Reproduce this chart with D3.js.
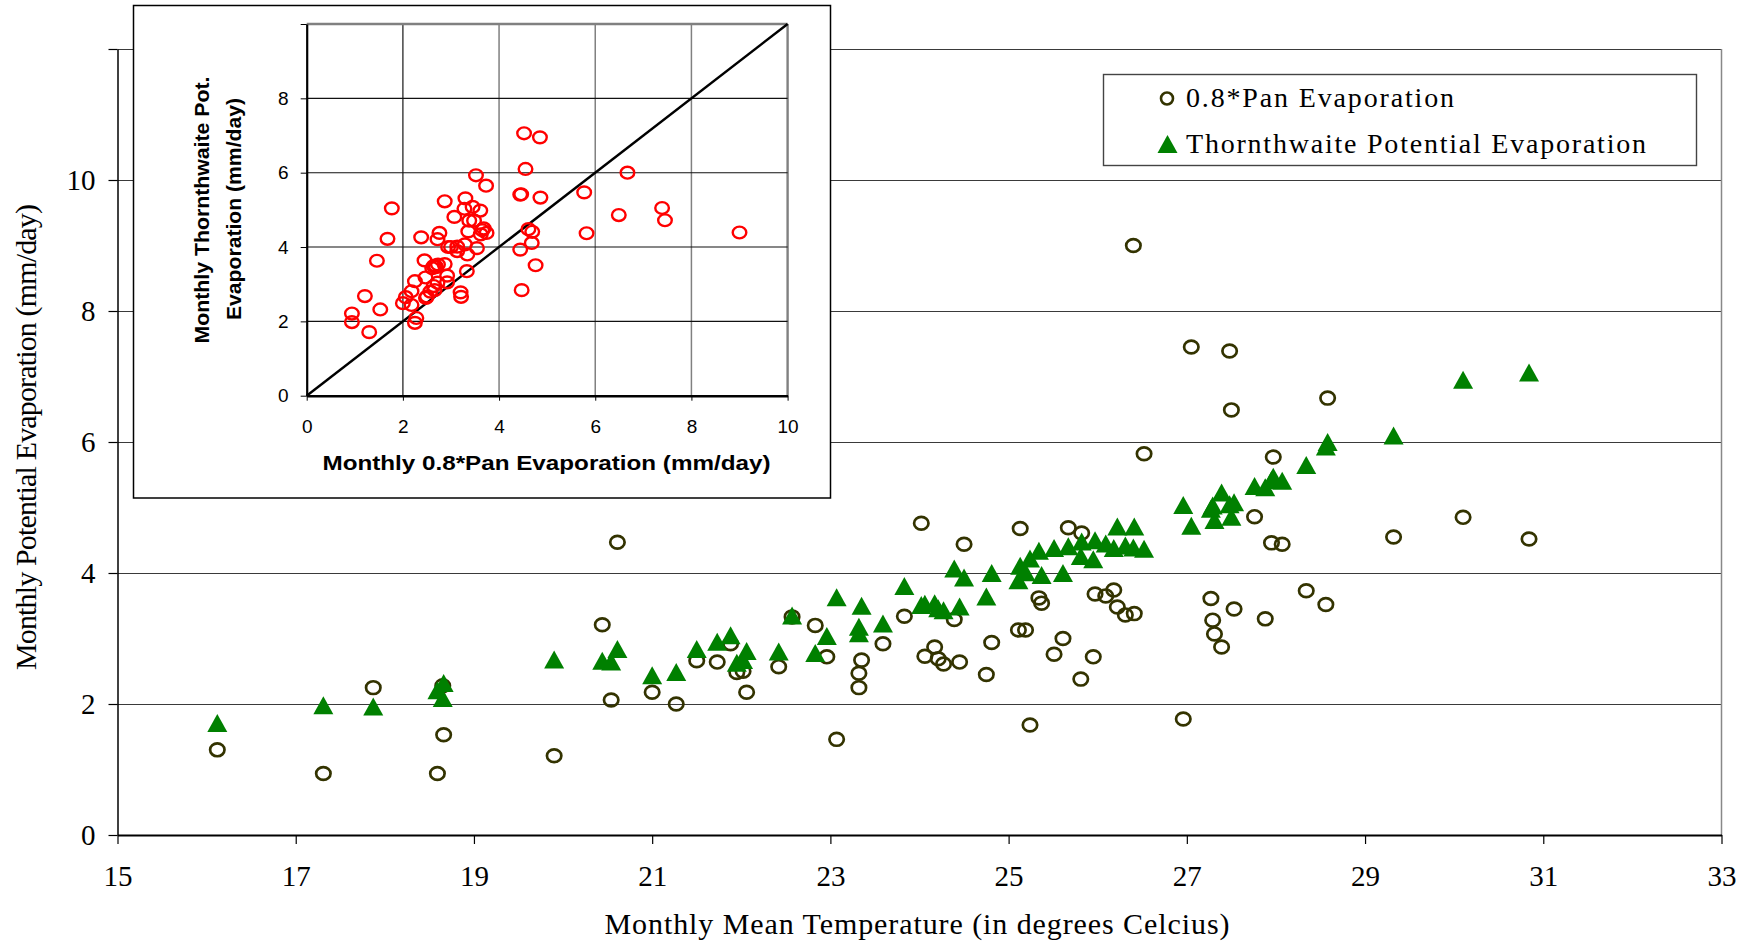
<!DOCTYPE html>
<html>
<head>
<meta charset="utf-8">
<script src="https://cdn.jsdelivr.net/npm/d3@7"></script>
<style>
  html, body { margin: 0; padding: 0; background: #fff; }
  svg { display: block; }
</style>
</head>
<body>
<svg id="chart" width="1751" height="944"></svg>
<script>
// Monthly mean temperature (deg C) for each month in the record
const temperature = [16.12, 17.31, 17.87, 18.59, 18.65, 18.66, 19.90, 20.44, 20.54, 20.61,
  21.00, 21.27, 21.50, 21.73, 21.88, 21.95, 22.02, 22.06, 22.42, 22.57,
  22.83, 22.96, 23.07, 23.32, 23.32, 23.35, 23.59, 23.83, 24.02, 24.06,
  24.17, 24.21, 24.27, 24.39, 24.45, 24.50, 24.75, 24.81, 25.11, 25.13,
  25.19, 25.24, 25.34, 25.37, 25.51, 25.61, 25.67, 25.81, 25.82, 25.95,
  25.97, 26.09, 26.18, 26.22, 26.31, 26.40, 26.41, 26.52, 26.96, 27.05,
  27.27, 27.29, 27.31, 27.39, 27.48, 27.50, 27.53, 27.76, 27.88, 27.95,
  27.97, 28.07, 28.34, 28.56, 28.58, 29.32, 30.10, 30.84];

// 0.8 * pan evaporation (mm/day) for the same months
const panEvaporation = [1.30, 0.94, 2.25, 0.94, 2.28, 1.53, 1.21, 3.21, 2.06, 4.47,
  2.18, 2.00, 2.66, 2.64, 2.92, 2.48, 2.50, 2.18, 2.57, 3.33,
  3.20, 2.72, 1.46, 2.47, 2.25, 2.67, 2.92, 3.34, 4.76, 2.73,
  2.87, 2.69, 2.61, 3.29, 2.64, 4.44, 2.45, 2.94, 3.13, 4.68,
  3.13, 1.68, 3.62, 3.54, 2.76, 3.00, 4.69, 2.38, 4.61, 2.72,
  3.68, 3.65, 3.74, 3.48, 3.36, 9.00, 3.38, 5.82, 1.77, 7.45,
  3.61, 3.28, 3.07, 2.87, 7.39, 6.49, 3.45, 4.86, 3.30, 4.46,
  5.77, 4.44, 3.73, 3.52, 6.67, 4.55, 4.85, 4.52];

// Thornthwaite potential evaporation (mm/day) for the same months
const thornthwaite = [1.71, 1.98, 1.96, 2.21, 2.09, 2.32, 2.68, 2.66, 2.65, 2.84,
  2.44, 2.49, 2.84, 2.95, 3.05, 2.63, 2.67, 2.81, 2.80, 3.35,
  2.78, 3.04, 3.63, 3.18, 3.08, 3.50, 3.23, 3.80, 3.51, 3.53,
  3.54, 3.46, 3.43, 4.07, 3.49, 3.93, 3.64, 4.00, 3.89, 4.11,
  4.01, 4.22, 4.34, 3.97, 4.38, 4.00, 4.41, 4.26, 4.48, 4.21,
  4.50, 4.45, 4.38, 4.71, 4.42, 4.39, 4.71, 4.37, 5.04, 4.72,
  4.98, 5.03, 4.81, 5.23, 5.05, 4.86, 5.08, 5.33, 5.31, 5.42,
  5.47, 5.41, 5.65, 5.93, 6.00, 6.10, 6.95, 7.06];

// Axis ticks
const tempTicks = [15, 17, 19, 21, 23, 25, 27, 29, 31, 33];
const evapTicks = [0, 2, 4, 6, 8, 10, 12];
const evapTickLabels = ["0", "2", "4", "6", "8", "10", ""];
const insetTicks = [0, 2, 4, 6, 8, 10];
const insetYTickLabels = ["0", "2", "4", "6", "8", ""];
const insetXTickLabels = ["0", "2", "4", "6", "8", "10"];

// Text
const seriesNames = ["0.8*Pan Evaporation", "Thornthwaite Potential Evaporation"];
const xTitle = "Monthly Mean Temperature (in degrees Celcius)";
const yTitle = "Monthly Potential Evaporation (mm/day)";
const insetXTitle = "Monthly 0.8*Pan Evaporation (mm/day)";
const insetYTitle = ["Monthly Thornthwaite Pot.", "Evaporation (mm/day)"];

const SERIF = "'Liberation Serif', 'Times New Roman', serif";
const SANS = "'Liberation Sans', Arial, sans-serif";
const PAN_COLOR = "#333300";
const THORN_COLOR = "#008000";

const months = temperature.map((t, i) => ({ t, pan: panEvaporation[i], th: thornthwaite[i] }));

const svg = d3.select("#chart");

// ---------------- main chart ----------------
const x = d3.scaleLinear().domain([15, 33]).range([117.5, 1721.5]);
const y = d3.scaleLinear().domain([0, 12]).range([835, 49]);

const main = svg.append("g");

// horizontal gridlines
main.append("g").selectAll("line")
  .data(evapTicks.filter(d => d > 0))
  .join("line")
  .attr("x1", x(15)).attr("x2", x(33))
  .attr("y1", d => Math.round(y(d)) + 0.5).attr("y2", d => Math.round(y(d)) + 0.5)
  .attr("stroke", "#3a3a3a").attr("stroke-width", 1.2);

// right border of the plot area
main.append("line")
  .attr("x1", x(33)).attr("x2", x(33)).attr("y1", y(12)).attr("y2", y(0))
  .attr("stroke", "#888").attr("stroke-width", 1.5);

// y axis
const yAxis = main.append("g")
  .attr("transform", `translate(${x(15)},0)`)
  .call(d3.axisLeft(y).tickValues(evapTicks)
    .tickFormat((d, i) => evapTickLabels[i]).tickSize(9).tickPadding(13).tickSizeOuter(0));
yAxis.select(".domain").attr("stroke", "#000").attr("stroke-width", 1.5);
yAxis.selectAll(".tick line").attr("stroke", "#000").attr("stroke-width", 1.2);
yAxis.selectAll("text").attr("font-family", SERIF).attr("font-size", 29).attr("fill", "#000");

// x axis
const xAxis = main.append("g")
  .attr("transform", `translate(0,${y(0)})`)
  .call(d3.axisBottom(x).tickValues(tempTicks).tickFormat(d3.format("d"))
    .tickSize(9).tickPadding(21).tickSizeOuter(0));
xAxis.select(".domain").attr("stroke", "#000").attr("stroke-width", 2.2);
xAxis.selectAll(".tick line").attr("stroke", "#000").attr("stroke-width", 1.2);
xAxis.selectAll("text").attr("font-family", SERIF).attr("font-size", 29).attr("fill", "#000");

// axis titles
main.append("text")
  .attr("x", 917).attr("y", 934)
  .attr("text-anchor", "middle")
  .attr("font-family", SERIF).attr("font-size", 30)
  .attr("textLength", 625).attr("lengthAdjust", "spacing")
  .text(xTitle);

main.append("text")
  .attr("transform", "translate(36,437) rotate(-90)")
  .attr("text-anchor", "middle")
  .attr("font-family", SERIF).attr("font-size", 30)
  .attr("textLength", 466).attr("lengthAdjust", "spacing")
  .text(yTitle);

// marker shapes
const triangle = (w, h) => `M0,${-h / 2}L${w / 2},${h / 2}L${-w / 2},${h / 2}Z`;

// 0.8*Pan evaporation: open circles
main.append("g").selectAll("ellipse")
  .data(months)
  .join("ellipse")
  .attr("cx", d => x(d.t)).attr("cy", d => y(d.pan))
  .attr("rx", 7.2).attr("ry", 6.4)
  .attr("fill", "none").attr("stroke", PAN_COLOR).attr("stroke-width", 2.7);

// Thornthwaite: filled triangles
main.append("g").selectAll("path")
  .data(months)
  .join("path")
  .attr("transform", d => `translate(${x(d.t)},${y(d.th)})`)
  .attr("d", triangle(20, 18))
  .attr("fill", THORN_COLOR);

// legend
const legend = main.append("g");
legend.append("rect")
  .attr("x", 1103.5).attr("y", 74.5).attr("width", 593).attr("height", 91)
  .attr("fill", "#fff").attr("stroke", "#444").attr("stroke-width", 1.4);
legend.append("ellipse")
  .attr("cx", 1167).attr("cy", 98.5).attr("rx", 6).attr("ry", 6)
  .attr("fill", "none").attr("stroke", PAN_COLOR).attr("stroke-width", 2.6);
legend.append("path")
  .attr("transform", "translate(1167.5,144)")
  .attr("d", triangle(20, 18)).attr("fill", THORN_COLOR);
legend.append("text")
  .attr("x", 1186).attr("y", 107)
  .attr("font-family", SERIF).attr("font-size", 28)
  .attr("textLength", 268).attr("lengthAdjust", "spacing")
  .text(seriesNames[0]);
legend.append("text")
  .attr("x", 1186).attr("y", 153)
  .attr("font-family", SERIF).attr("font-size", 28)
  .attr("textLength", 460).attr("lengthAdjust", "spacing")
  .text(seriesNames[1]);

// ---------------- inset: Thornthwaite vs 0.8*Pan ----------------
const inset = svg.append("g");
inset.append("rect")
  .attr("x", 133.5).attr("y", 5.5).attr("width", 697).attr("height", 492.5)
  .attr("fill", "#fff").attr("stroke", "#000").attr("stroke-width", 1.5);

const ix = d3.scaleLinear().domain([0, 10]).range([306.7, 787.6]);
const iy = d3.scaleLinear().domain([0, 10]).range([395.7, 24]);

// vertical gridlines
inset.append("g").selectAll("line")
  .data(insetTicks.filter(d => d > 0))
  .join("line")
  .attr("x1", d => ix(d)).attr("x2", d => ix(d))
  .attr("y1", iy(0)).attr("y2", iy(10))
  .attr("stroke", d => d === 2 ? "#444" : "#808080").attr("stroke-width", d => d === 10 ? 2.4 : 1.5);

// horizontal gridlines
inset.append("g").selectAll("line")
  .data(insetTicks.filter(d => d > 0))
  .join("line")
  .attr("x1", ix(0)).attr("x2", ix(10))
  .attr("y1", d => iy(d)).attr("y2", d => iy(d))
  .attr("stroke", d => d === 10 ? "#808080" : "#111")
  .attr("stroke-width", d => d === 10 ? 2.4 : 1.1);

// 1:1 line
inset.append("line")
  .attr("x1", ix(0)).attr("y1", iy(0)).attr("x2", ix(10)).attr("y2", iy(10))
  .attr("stroke", "#000").attr("stroke-width", 2.4);

const iyAxis = inset.append("g")
  .attr("transform", `translate(${ix(0)},0)`)
  .call(d3.axisLeft(iy).tickValues(insetTicks)
    .tickFormat((d, i) => insetYTickLabels[i]).tickSize(6).tickPadding(12).tickSizeOuter(0));
iyAxis.select(".domain").attr("stroke", "#000").attr("stroke-width", 2.2);
iyAxis.selectAll(".tick line").attr("stroke", "#000");
iyAxis.selectAll("text").attr("font-family", SANS).attr("font-size", 19).attr("fill", "#000");

const ixAxis = inset.append("g")
  .attr("transform", `translate(0,${iy(0)})`)
  .call(d3.axisBottom(ix).tickValues(insetTicks)
    .tickFormat((d, i) => insetXTickLabels[i]).tickSize(5).tickPadding(19).tickSizeOuter(0));
ixAxis.select(".domain").attr("stroke", "#000").attr("stroke-width", 2.4);
ixAxis.selectAll(".tick line").attr("stroke", "#000");
ixAxis.selectAll("text").attr("font-family", SANS).attr("font-size", 19).attr("fill", "#000");

inset.append("text")
  .attr("x", 546.5).attr("y", 470)
  .attr("text-anchor", "middle")
  .attr("font-family", SANS).attr("font-size", 20).attr("font-weight", "bold")
  .attr("textLength", 448).attr("lengthAdjust", "spacingAndGlyphs")
  .text(insetXTitle);

inset.append("text")
  .attr("transform", "translate(209,210) rotate(-90)")
  .attr("text-anchor", "middle")
  .attr("font-family", SANS).attr("font-size", 20).attr("font-weight", "bold")
  .attr("textLength", 267).attr("lengthAdjust", "spacingAndGlyphs")
  .text(insetYTitle[0]);
inset.append("text")
  .attr("transform", "translate(241,209) rotate(-90)")
  .attr("text-anchor", "middle")
  .attr("font-family", SANS).attr("font-size", 20).attr("font-weight", "bold")
  .attr("textLength", 222).attr("lengthAdjust", "spacingAndGlyphs")
  .text(insetYTitle[1]);

inset.append("g").selectAll("ellipse")
  .data(months)
  .join("ellipse")
  .attr("cx", d => ix(d.pan)).attr("cy", d => iy(d.th))
  .attr("rx", 6.8).attr("ry", 5.9)
  .attr("fill", "none").attr("stroke", "#ff0000").attr("stroke-width", 2.4);
</script>
</body>
</html>
